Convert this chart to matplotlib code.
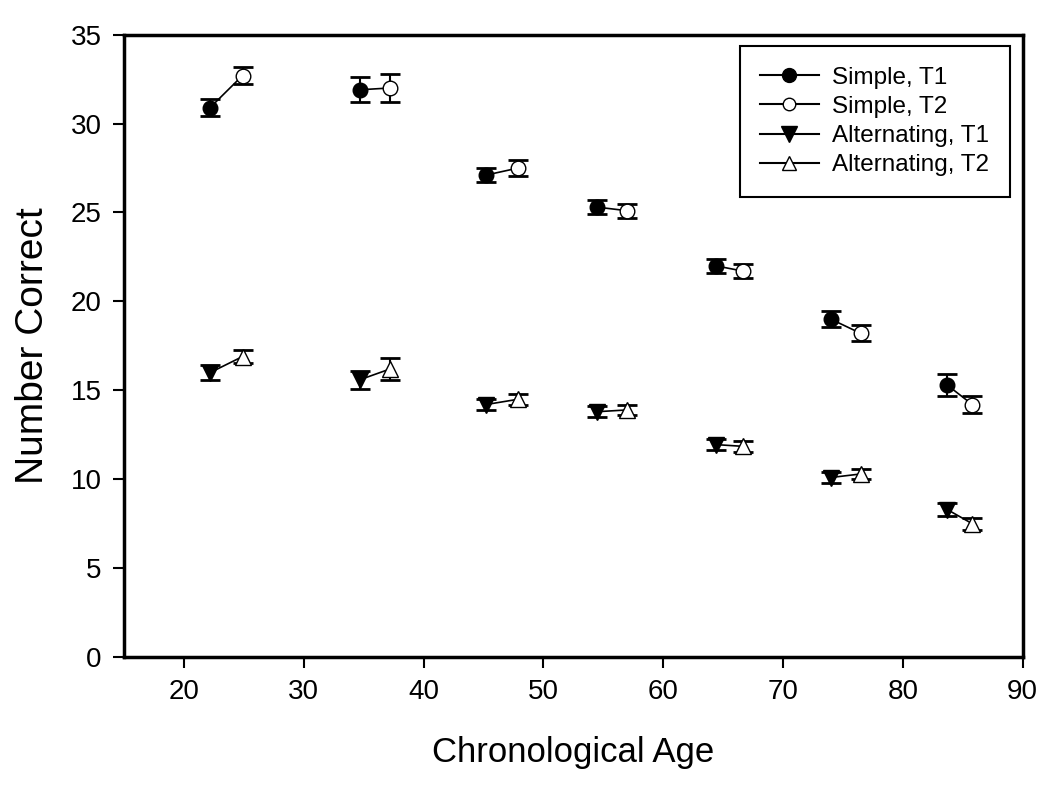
import numpy as np
import matplotlib.pyplot as plt

plt.rcParams['font.family'] = ['Liberation Sans', 'DejaVu Sans']

# ages for each group (T1 and T2 plotted slightly apart)
age_t1 = [22.2, 34.7, 45.2, 54.5, 64.4, 74.0, 83.7]
age_t2 = [24.9, 37.2, 47.9, 57.0, 66.7, 76.5, 85.8]

simple_t1 = [30.9, 31.9, 27.1, 25.3, 22.0, 19.0, 15.3]
simple_t1_err = [0.5, 0.7, 0.4, 0.4, 0.4, 0.45, 0.6]
simple_t2 = [32.7, 32.0, 27.5, 25.1, 21.7, 18.2, 14.2]
simple_t2_err = [0.5, 0.8, 0.45, 0.4, 0.4, 0.45, 0.5]

alt_t1 = [16.0, 15.6, 14.2, 13.8, 11.95, 10.1, 8.3]
alt_t1_err = [0.4, 0.5, 0.3, 0.3, 0.3, 0.3, 0.35]
alt_t2 = [16.9, 16.2, 14.5, 13.9, 11.85, 10.3, 7.5]
alt_t2_err = [0.35, 0.6, 0.3, 0.3, 0.3, 0.3, 0.35]

fig, ax = plt.subplots(figsize=(10.5, 7.87), dpi=100)
fig.subplots_adjust(left=0.118, right=0.974, top=0.956, bottom=0.165)

# connecting lines between T1 and T2 within each group
for i in range(len(age_t1)):
    ax.plot([age_t1[i], age_t2[i]], [simple_t1[i], simple_t2[i]], color='black', lw=1.2, zorder=2)
    ax.plot([age_t1[i], age_t2[i]], [alt_t1[i], alt_t2[i]], color='black', lw=1.2, zorder=2)

eb = dict(ecolor='black', elinewidth=1.5, capsize=7, capthick=2, ls='none', zorder=3)
ax.errorbar(age_t1, simple_t1, yerr=simple_t1_err, fmt='o', mfc='black', mec='black', ms=10.5, **eb)
ax.errorbar(age_t2, simple_t2, yerr=simple_t2_err, fmt='o', mfc='white', mec='black', ms=10.5, **eb)
ax.errorbar(age_t1, alt_t1, yerr=alt_t1_err, fmt='v', mfc='black', mec='black', ms=11.5, **eb)
ax.errorbar(age_t2, alt_t2, yerr=alt_t2_err, fmt='^', mfc='white', mec='black', ms=11.5, **eb)

# legend handles
h1, = ax.plot([], [], color='black', marker='o', mfc='black', mec='black', ms=10, lw=1.5)
h2, = ax.plot([], [], color='black', marker='o', mfc='white', mec='black', ms=9, lw=1.5)
h3, = ax.plot([], [], color='black', marker='v', mfc='black', mec='black', ms=11, lw=1.5)
h4, = ax.plot([], [], color='black', marker='^', mfc='white', mec='black', ms=10, lw=1.5)
leg = ax.legend([h1, h2, h3, h4], ['Simple, T1', 'Simple, T2', 'Alternating, T1', 'Alternating, T2'],
                loc='upper right', bbox_to_anchor=(0.9855, 0.982), borderaxespad=0,
                fontsize=17.5, fancybox=False, edgecolor='black', framealpha=1,
                handlelength=2.4, labelspacing=0.3, borderpad=0.85, handletextpad=0.55)
leg.get_frame().set_linewidth(1.5)

ax.set_xlim(15, 90)
ax.set_ylim(0, 35)
ax.set_xticks(np.arange(20, 91, 10))
ax.set_yticks(np.arange(0, 36, 5))
ax.tick_params(direction='out', length=8, width=1.5, labelsize=20, pad=8)
for s in ax.spines.values():
    s.set_linewidth(2.5)

ax.set_xlabel('Chronological Age', fontsize=25, labelpad=22)
ax.set_ylabel('Number Correct', fontsize=28, labelpad=14)

fig.savefig('out.png', dpi=100)
